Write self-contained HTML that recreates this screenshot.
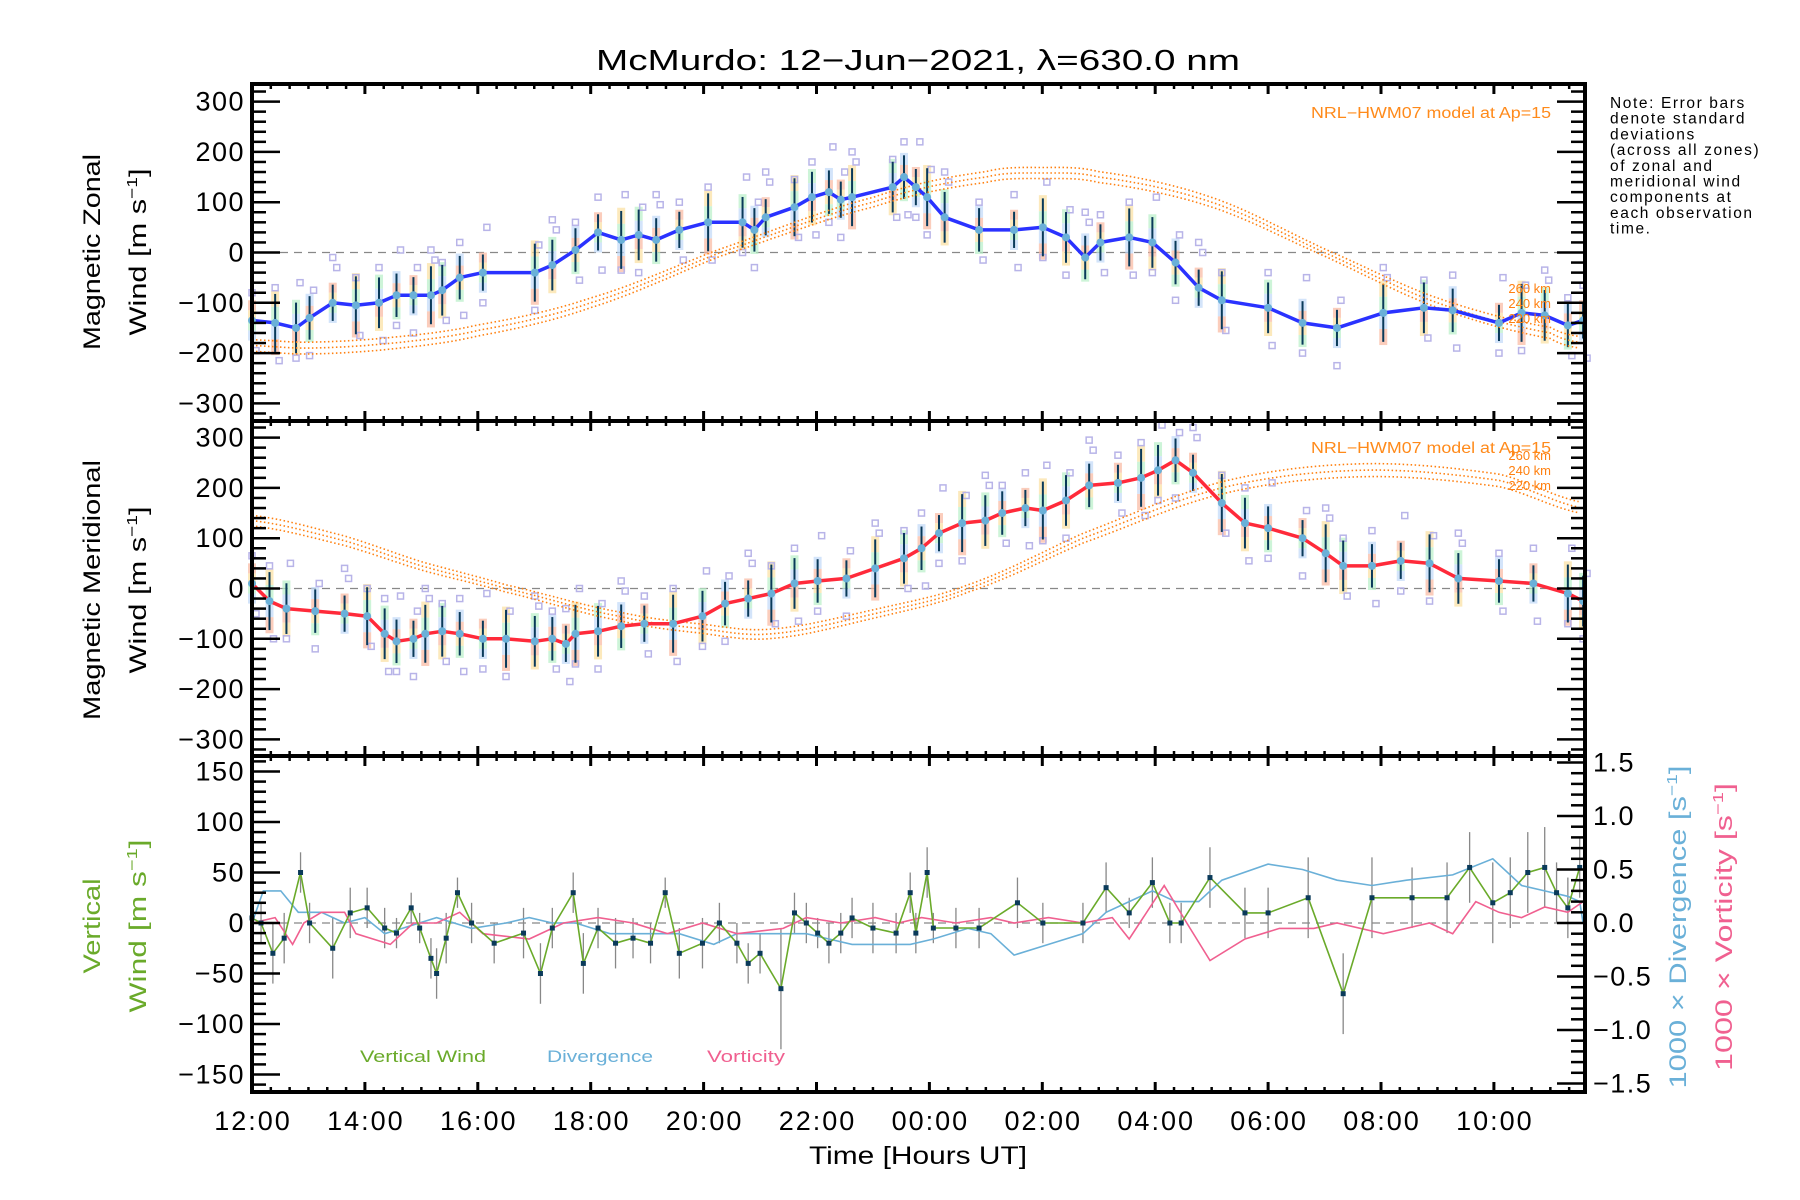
<!DOCTYPE html>
<html><head><meta charset="utf-8"><style>
html,body{margin:0;padding:0;background:#fff;}
svg{display:block;font-family:"Liberation Sans",sans-serif;}
</style></head><body>
<svg id="chart" width="1800" height="1200" viewBox="0 0 1800 1200" xmlns="http://www.w3.org/2000/svg">
<text x="918" y="70" font-size="29" text-anchor="middle" textLength="644" lengthAdjust="spacingAndGlyphs">McMurdo: 12−Jun−2021, λ=630.0 nm</text>
<g font-size="15.5" letter-spacing="1.6">
<text x="1610" y="108">Note: Error bars</text>
<text x="1610" y="123.7">denote standard</text>
<text x="1610" y="139.4">deviations</text>
<text x="1610" y="155.1">(across all zones)</text>
<text x="1610" y="170.8">of zonal and</text>
<text x="1610" y="186.5">meridional wind</text>
<text x="1610" y="202.2">components at</text>
<text x="1610" y="217.9">each observation</text>
<text x="1610" y="233.6">time.</text>
</g>
<g id="marks"></g>
<g id="axes"></g>
<g font-size="24">
<text transform="translate(100,252) rotate(-90)" text-anchor="middle" textLength="196" lengthAdjust="spacingAndGlyphs">Magnetic Zonal</text>
<text transform="translate(146,252) rotate(-90)" text-anchor="middle" textLength="167" lengthAdjust="spacingAndGlyphs">Wind [m s<tspan font-size="15" dy="-9">−1</tspan><tspan dy="9">]</tspan></text>
</g>
<g font-size="24">
<text transform="translate(100,590) rotate(-90)" text-anchor="middle" textLength="260" lengthAdjust="spacingAndGlyphs">Magnetic Meridional</text>
<text transform="translate(146,590) rotate(-90)" text-anchor="middle" textLength="167" lengthAdjust="spacingAndGlyphs">Wind [m s<tspan font-size="15" dy="-9">−1</tspan><tspan dy="9">]</tspan></text>
</g>
<g font-size="24" fill="#6aaa2a">
<text transform="translate(100,926) rotate(-90)" text-anchor="middle" textLength="95" lengthAdjust="spacingAndGlyphs">Vertical</text>
<text transform="translate(146,926) rotate(-90)" text-anchor="middle" textLength="173" lengthAdjust="spacingAndGlyphs">Wind [m s<tspan font-size="15" dy="-9">−1</tspan><tspan dy="9">]</tspan></text>
</g>
<text transform="translate(1686,927) rotate(-90)" font-size="24" fill="#6ab0d8" text-anchor="middle" textLength="323" lengthAdjust="spacingAndGlyphs">1000 × Divergence [s<tspan font-size="15" dy="-9">−1</tspan><tspan dy="9">]</tspan></text>
<text transform="translate(1732,927) rotate(-90)" font-size="24" fill="#f06090" text-anchor="middle" textLength="288" lengthAdjust="spacingAndGlyphs">1000 × Vorticity [s<tspan font-size="15" dy="-9">−1</tspan><tspan dy="9">]</tspan></text>
<text x="918" y="1164" font-size="25" text-anchor="middle" textLength="218" lengthAdjust="spacingAndGlyphs">Time [Hours UT]</text>
<text x="1551" y="118" font-size="15.5" fill="#ff8a1a" text-anchor="end" textLength="240" lengthAdjust="spacingAndGlyphs">NRL−HWM07 model at Ap=15</text>
<text x="1551" y="453" font-size="15.5" fill="#ff8a1a" text-anchor="end" textLength="240" lengthAdjust="spacingAndGlyphs">NRL−HWM07 model at Ap=15</text>
<text x="423" y="1062" font-size="17" fill="#6aaa2a" text-anchor="middle" textLength="126" lengthAdjust="spacingAndGlyphs">Vertical Wind</text>
<text x="600" y="1062" font-size="17" fill="#6ab0d8" text-anchor="middle" textLength="106" lengthAdjust="spacingAndGlyphs">Divergence</text>
<text x="746" y="1062" font-size="17" fill="#f06090" text-anchor="middle" textLength="78" lengthAdjust="spacingAndGlyphs">Vorticity</text>
</svg>
<script>
// ---- data ----
const zonalHours=[0,0.41,0.78,1.02,1.43,1.84,2.25,2.56,2.86,3.17,3.37,3.68,4.09,5.01,5.32,5.73,6.13,6.54,6.85,7.16,7.57,8.08,8.69,8.90,9.10,9.61,9.92,10.22,10.43,10.63,11.35,11.55,11.76,11.96,12.27,12.88,13.50,14.01,14.42,14.76,15.03,15.54,15.95,16.36,16.77,17.18,18.00,18.61,19.22,20.04,20.76,21.27,22.09,22.49,22.90,23.31,23.58];
const zonalWind=[-135,-140,-150,-130,-100,-105,-100,-85,-85,-85,-75,-50,-40,-40,-25,5,40,25,35,25,45,60,60,45,70,90,110,120,105,110,130,150,130,110,70,45,45,50,30,-10,20,30,20,-20,-70,-95,-110,-140,-150,-120,-110,-115,-140,-120,-125,-145,-135];
const meridHours=[0,0.31,0.61,1.12,1.64,2.04,2.35,2.56,2.86,3.07,3.37,3.68,4.09,4.50,5.01,5.32,5.56,5.73,6.13,6.54,6.95,7.46,7.98,8.38,8.79,9.20,9.61,10.02,10.53,11.04,11.55,11.86,12.17,12.58,12.99,13.29,13.70,14.01,14.42,14.83,15.34,15.75,16.05,16.36,16.67,17.18,17.59,18.00,18.61,19.02,19.33,19.84,20.35,20.86,21.37,22.09,22.70,23.31,23.58];
const meridWind=[10,-25,-40,-45,-50,-55,-90,-105,-100,-90,-85,-90,-100,-100,-105,-100,-110,-90,-85,-75,-70,-70,-55,-30,-20,-10,10,15,20,40,60,80,110,130,135,150,160,155,175,205,210,220,235,255,230,170,130,120,100,70,45,45,55,50,20,15,10,-10,-25];
const zonalModelHours=[0,1,2.5,4,6,8.3,11,13,14,15,17,19,21,23,23.6];
const zonalModel=[-185,-190,-180,-155,-100,0,100,150,158,150,100,0,-100,-160,-180];
const meridModelHours=[0,1.64,3,4.5,6.5,7.98,9.2,11.04,12.68,14.72,17.18,19.63,22.09,23.58];
const meridModel=[135,95,45,0,-55,-80,-90,-50,0,100,200,235,215,160];
const modelOffsets=[12,0,-12];
const vertHours=[0,0.16,0.37,0.57,0.86,1.02,1.43,1.74,2.04,2.35,2.56,2.82,2.97,3.17,3.27,3.44,3.64,3.89,4.29,4.81,5.11,5.32,5.69,5.87,6.13,6.44,6.75,7.06,7.32,7.57,7.98,8.28,8.59,8.79,9.00,9.37,9.61,9.82,10.02,10.22,10.43,10.63,11.00,11.41,11.66,11.76,11.96,12.07,12.47,12.88,13.56,14.01,14.72,15.13,15.54,15.95,16.26,16.46,16.97,17.59,18.00,18.71,19.33,19.84,20.55,21.17,21.57,21.98,22.29,22.60,22.90,23.11,23.31,23.52];
const vertWind=[5,0,-30,-15,50,0,-25,10,15,-5,-10,15,-5,-35,-50,-15,30,0,-20,-10,-50,-5,30,-40,-5,-20,-15,-20,30,-30,-20,0,-20,-40,-30,-65,10,0,-10,-20,-10,5,-5,-10,30,-10,50,-5,-5,-5,20,0,0,35,10,40,0,0,45,10,10,25,-70,25,25,25,55,20,30,50,55,30,15,55];
const vertErr=[25,20,30,25,20,20,30,25,20,20,15,15,15,20,25,25,15,20,20,25,30,20,20,30,20,25,20,20,15,25,25,20,20,20,20,60,20,20,15,20,20,20,25,20,20,20,25,15,20,20,25,20,20,25,15,25,20,20,30,25,25,40,40,40,30,35,35,40,35,40,40,30,30,30];
const divHours=[0,0.2,0.51,0.82,1.23,1.64,2.0,2.35,2.66,3.27,3.89,4.5,4.91,5.32,5.73,6.34,6.95,7.57,8.18,8.59,9.0,9.82,10.22,10.63,11.66,12.07,12.68,13.09,13.5,14.11,14.72,15.13,15.54,15.95,16.36,16.77,17.18,18.0,18.61,19.22,19.84,20.45,21.27,21.98,22.49,22.9,23.31,23.52,23.58];
const divergence=[0,0.3,0.3,0.1,0.1,0,0.05,-0.1,-0.05,0.05,-0.05,0,0.05,0,0,-0.1,-0.1,-0.1,-0.2,-0.1,-0.1,-0.1,-0.15,-0.2,-0.2,-0.15,-0.05,-0.1,-0.3,-0.2,-0.1,0.1,0.2,0.3,0.2,0.2,0.4,0.55,0.5,0.4,0.35,0.4,0.45,0.6,0.35,0.3,0.25,0.2,0];
const vortHours=[0,0.41,0.72,0.92,1.23,1.64,1.84,2.45,2.86,3.27,3.68,4.09,4.91,5.52,6.13,6.75,7.36,7.98,8.59,9.41,9.82,10.43,11.04,11.45,11.86,12.47,13.09,13.5,14.11,14.72,15.24,15.54,16.16,16.56,16.97,17.59,18.2,18.81,19.22,20.04,20.86,21.27,21.68,22.09,22.49,22.9,23.31,23.58];
const vorticity=[0,0.05,-0.2,0,0.1,0.1,-0.1,-0.2,0,0,0.1,-0.1,-0.15,0,0.05,0,-0.1,0,-0.1,-0.05,0.05,0,0.05,0,0.05,0,0.05,0,0.05,0,0.05,-0.15,0.35,0,-0.35,-0.15,-0.05,-0.05,0,-0.1,0,-0.1,0.2,0.1,0.05,0.15,0.1,0.2];
const zonalTicks=[-300,-200,-100,0,100,200,300];
const vertTicks=[-150,-100,-50,0,50,100,150];
const rightTicks=[-1.5,-1.0,-0.5,0.0,0.5,1.0,1.5];
const timeLabels=["12:00","14:00","16:00","18:00","20:00","22:00","00:00","02:00","04:00","06:00","08:00","10:00"];

// ---- scales ----
const L=252,R=1585;
const X=h=>L+56.45*h;
const Y1=v=>252.5-v*0.503;
const Y2=v=>588.5-v*0.503;
const Y3=v=>923-v*1.01;
const YR=v=>923-v*107;
const NS="http://www.w3.org/2000/svg";
const marks=document.getElementById('marks');
const axes=document.getElementById('axes');
function mk(tag,attrs,parent){const e=document.createElementNS(NS,tag);for(const k in attrs)e.setAttribute(k,attrs[k]);(parent||marks).appendChild(e);return e;}
function smooth(hs,vs,h){
  let i=0;while(i<hs.length-2&&h>hs[i+1])i++;
  const p0=vs[Math.max(0,i-1)],p1=vs[i],p2=vs[i+1],p3=vs[Math.min(vs.length-1,i+2)];
  const t=Math.max(0,Math.min(1,(h-hs[i])/(hs[i+1]-hs[i])));
  const t2=t*t,t3=t2*t;
  return 0.5*((2*p1)+(-p0+p2)*t+(2*p0-5*p1+4*p2-p3)*t2+(-p0+3*p1-3*p2+p3)*t3);
}
function pts(hs,vs,Y){return hs.map((h,i)=>X(h).toFixed(1)+','+Y(vs[i]).toFixed(1)).join(' ');}

[Y1(0),Y2(0),Y3(0)].forEach((y,i)=>{
  const l=mk('line',{x1:L,x2:R,y1:y,y2:y,stroke:'#888','stroke-width':1.3,'stroke-dasharray':'8,6'});
  
  
});

const pastel=['#f9b8a0','#fbe0a0','#b8f0c8','#c0d8f8'];
const sqOff=[55,70,-60,-75,90];
function windPanel(hs,vs,Y,color,name,modelH,modelV,top,bottom){
  const g=mk('g',{});
  
  
  hs.forEach((h,i)=>{
    const x=X(h),v=vs[i];
    const err=40+((i*7)%4)*8;
    const hi=Math.max(top,Y(v+err)),lo=Math.min(bottom,Y(v-err));
    const seg=(lo-hi)/4;
    for(let k=0;k<4;k++){
      const r=mk('rect',{x:x-4,y:hi+k*seg,width:8,height:seg,fill:pastel[(k+i)%4],opacity:0.7},g);
      
      
    }
    for(let k=0;k<2;k++){
      const o=sqOff[(i+k*2)%5];
      const y=Y(v+o);if(y<top+4||y>bottom-4)continue;
      const s=mk('rect',{x:x-3+(k?4:0),y:y-3,width:6,height:6,fill:'none',stroke:'#b8b4e8','stroke-width':1.5},g);
      
      
    }
    const e=mk('line',{x1:x,x2:x,y1:Math.max(top,Y(v+err*0.9)),y2:Math.min(bottom,Y(v-err*0.9)),stroke:'#0a3a5a','stroke-width':2},g);
    
    
  });
  modelOffsets.forEach((off,j)=>{
    const p=[];
    for(let h=0;h<=23.6;h+=0.1){const mv=smooth(modelH,modelV,h);p.push(X(h).toFixed(1)+','+Y(mv+off*(0.6+0.4*Math.abs(mv)/200)).toFixed(1));}
    const m=mk('polyline',{points:p.join(' '),fill:'none',stroke:'#ff8010','stroke-width':1.6,'stroke-dasharray':'1.5,2.5'});
    
    
  });
  const pl=mk('polyline',{points:pts(hs,vs,Y),fill:'none',stroke:color,'stroke-width':3.5,'stroke-linejoin':'round'});
  
  
  hs.forEach((h,i)=>{
    const c=mk('circle',{cx:X(h),cy:Y(vs[i]),r:4,fill:'#6ab0d8'});
    
    
  });
}
windPanel(zonalHours,zonalWind,Y1,'#2a32ff','zonal',zonalModelHours,zonalModel,84,421);
windPanel(meridHours,meridWind,Y2,'#ff2a3a','meridional',meridModelHours,meridModel,421,756);

[['260 km',293,460],['240 km',308,475],['220 km',323,490]].forEach(([t,y1,y2])=>{
  [y1,y2].forEach(y=>{const e=mk('text',{x:1551,y:y,'font-size':13,fill:'#ff8010','text-anchor':'end'});e.textContent=t;
  
  });
});

vertHours.forEach((h,i)=>{
  const e=mk('line',{x1:X(h),x2:X(h),y1:Y3(vertWind[i]+vertErr[i]),y2:Y3(vertWind[i]-vertErr[i]),stroke:'#888','stroke-width':1.3});
  
  
});
const dv=mk('polyline',{points:pts(divHours,divergence,YR),fill:'none',stroke:'#6ab0d8','stroke-width':1.6});


const vo=mk('polyline',{points:pts(vortHours,vorticity,YR),fill:'none',stroke:'#f06090','stroke-width':1.6});


const vw=mk('polyline',{points:pts(vertHours,vertWind,Y3),fill:'none',stroke:'#6aaa2a','stroke-width':1.6});


vertHours.forEach((h,i)=>{
  const r=mk('rect',{x:X(h)-2.5,y:Y3(vertWind[i])-2.5,width:5,height:5,fill:'#0a3a5a'});
  
  
});

// ---- axes ----
function ln(x1,y1,x2,y2,w){return mk('line',{x1,y1,x2,y2,stroke:'#000','stroke-width':w},axes);}
function txt(x,y,t,anchor,size,name,ls){const e=mk('text',{x,y,'font-size':size,'text-anchor':anchor,'dominant-baseline':'central','letter-spacing':ls||0},axes);e.textContent=t;
  
  return e;}
const panels=[[84,421],[421,756],[756,1092]];
panels.forEach(([t,b])=>{
  const r=mk('rect',{x:L,y:t,width:R-L,height:b-t,fill:'none',stroke:'#000','stroke-width':4},axes);
  
  
  for(let m=0;m<=23.6*60;m+=20){
    const x=X(m/60),maj=m%120===0;
    ln(x,t,x,t+(maj?10:5),maj?3:2.5);ln(x,b,x,b-(maj?10:5),maj?3:2.5);
  }
});
[[Y1,84,421],[Y2,421,756]].forEach(([Y,t,b])=>{
  for(let v=-340;v<=340;v+=20){const y=Y(v);if(y<t+2||y>b-2)continue;const maj=v%100===0;
    ln(L,y,L+(maj?28:14),y,2.5);ln(R,y,R-(maj?28:14),y,2.5);}
  zonalTicks.forEach(v=>txt(245,Y(v),(v<0?'−':'')+Math.abs(v),'end',27,'y-tick-label',1.5));
});
for(let v=-160;v<=160;v+=10){const y=Y3(v);if(y<758||y>1090)continue;ln(L,y,L+(v%50===0?28:14),y,2.5);}
vertTicks.forEach(v=>txt(245,Y3(v),(v<0?'−':'')+Math.abs(v),'end',27,'vertical-tick-label',1.5));
for(let k=-15;k<=15;k++){const v=k/10,y=YR(v);if(y<758||y>1090)continue;ln(R,y,R-(k%5===0?28:14),y,2.5);}
rightTicks.forEach(v=>txt(1593,YR(v),(v<0?'−':'')+Math.abs(v).toFixed(1),'start',27,'right-tick-label',1.5));
timeLabels.forEach((t,i)=>txt(X(i*2)+1,1121,t,'middle',27,'x-tick-label',2));
</script>
</body></html>
